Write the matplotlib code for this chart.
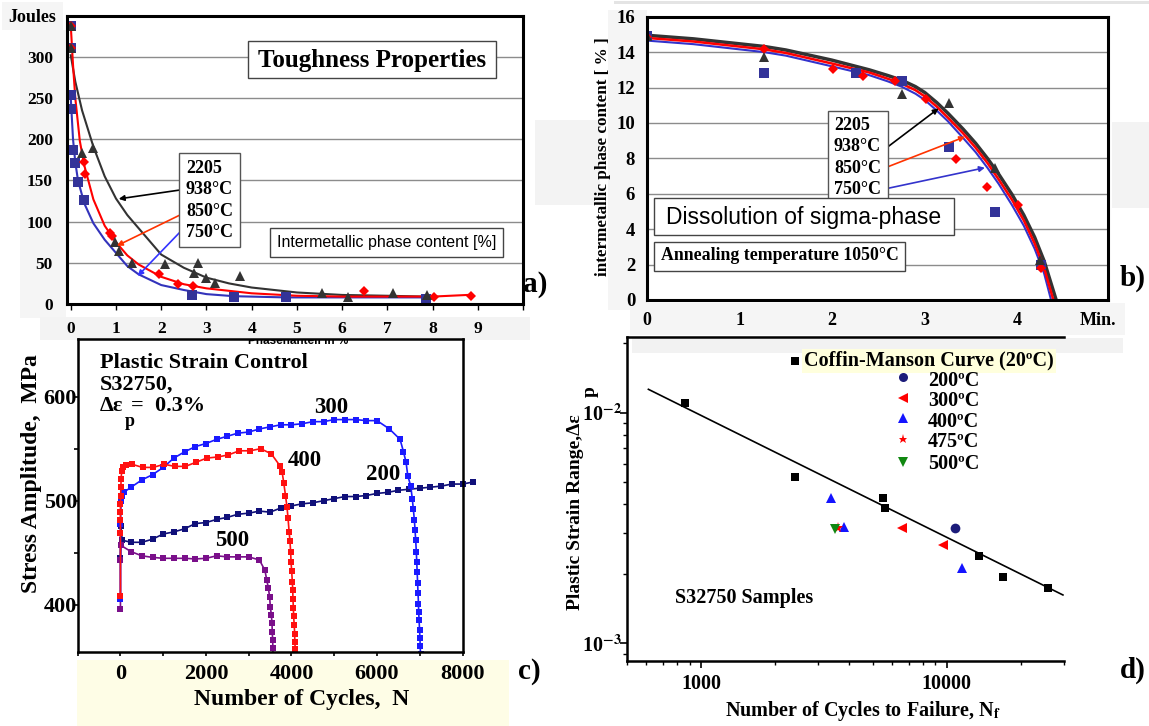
import matplotlib.pyplot as plt
from matplotlib.patches import Rectangle
from matplotlib.lines import Line2D
from matplotlib.ticker import NullFormatter
from matplotlib.transforms import Bbox, TransformedBbox

# ---------------- a) toughness vs intermetallic phase content ----------------
a_tri_x = [0, 0, 0.25, 0.49, 0.97, 1.06, 1.35, 2.09, 2.73, 2.81, 3.0, 3.2, 3.74, 5.56, 6.12, 7.13, 7.88]
a_tri_y = [338, 311, 183, 189, 75, 64, 50, 48, 38, 50, 31, 25, 34, 13, 8, 13, 11]
a_dia_x = [0, 0, 0.29, 0.32, 0.87, 0.91, 1.96, 2.37, 2.7, 6.48, 8.03, 8.84]
a_dia_y = [338, 311, 172, 158, 86, 82, 37, 24, 22, 16, 8, 10]
a_sq_x = [0, 0, 0, 0, 0.04, 0.09, 0.15, 0.29, 2.68, 3.61, 4.77, 7.85]
a_sq_y = [338, 311, 254, 237, 187, 171, 148, 126, 11, 9, 8, 6]

a_fit938_x = [0, 0.1, 0.25, 0.5, 0.75, 1.0, 1.25, 1.5, 2.0, 2.5, 3.0, 3.5, 4.0, 5.0, 6.0, 7.0, 7.85]
a_fit938_y = [302, 270, 235, 191, 155, 128, 108, 92, 60, 44, 32, 25, 20, 14, 11, 10, 9]
a_fit850_x = [0, 0.05, 0.1, 0.2, 0.3, 0.5, 0.75, 1.0, 1.25, 1.5, 2.0, 2.5, 3.0, 4.0, 5.0, 6.0, 7.0, 8.0, 8.78]
a_fit850_y = [338, 290, 250, 198, 168, 127, 95, 75, 59, 48, 33, 24, 19, 13, 10, 9, 9, 9, 11]
a_fit750_x = [0, 0.05, 0.1, 0.16, 0.3, 0.5, 0.75, 1.0, 1.25, 1.5, 2.0, 2.5, 3.0, 3.6, 4.75, 6.0, 7.8]
a_fit750_y = [250, 200, 172, 150, 122, 98, 78, 62, 46, 36, 23, 17, 12, 9.5, 8, 8, 8]

# ---------------- b) dissolution of sigma phase at 1050 C ----------------
b_tri_x = [0, 1.264, 2.758, 3.262, 3.761, 4.249]
b_tri_y = [14.9, 13.74, 11.61, 11.1, 7.44, 2.26]
b_dia_x = [0, 1.264, 2.006, 2.332, 2.677, 3.01, 3.334, 3.671, 4.004, 4.256]
b_dia_y = [14.85, 14.2, 13.04, 12.65, 12.35, 11.33, 7.96, 6.36, 5.36, 1.79]
b_sq_x = [0, 1.264, 2.258, 2.758, 3.262, 3.761, 4.256]
b_sq_y = [14.9, 12.84, 12.84, 12.37, 8.66, 4.99, 1.98]

b_fit938_x = [0, 0.5, 1.264, 1.5, 1.995, 2.4, 2.6, 2.75, 2.9, 3.0, 3.13, 3.25, 3.415, 3.55, 3.68, 3.8, 3.944, 4.07, 4.187, 4.29, 4.42, 4.45]
b_fit938_y = [14.95, 14.75, 14.32, 14.12, 13.55, 13.0, 12.68, 12.42, 12.05, 11.72, 11.15, 10.55, 9.65, 8.85, 7.98, 7.1, 5.95, 4.8, 3.55, 2.2, 0, -0.5]
b_fit850_x = [0, 0.5, 1.264, 1.5, 1.995, 2.4, 2.6, 2.75, 2.9, 3.0, 3.13, 3.25, 3.415, 3.55, 3.68, 3.8, 3.944, 4.07, 4.187, 4.29, 4.39, 4.42]
b_fit850_y = [14.8, 14.6, 14.16, 13.95, 13.36, 12.85, 12.5, 12.22, 11.85, 11.5, 10.92, 10.3, 9.41, 8.6, 7.72, 6.8, 5.65, 4.5, 3.2, 1.8, 0, -0.5]
b_fit750_x = [0, 0.5, 1.264, 1.5, 1.995, 2.4, 2.6, 2.75, 2.9, 3.0, 3.13, 3.25, 3.415, 3.55, 3.68, 3.8, 3.944, 4.07, 4.187, 4.29, 4.365, 4.39]
b_fit750_y = [14.65, 14.45, 14.0, 13.8, 13.2, 12.7, 12.35, 12.05, 11.65, 11.3, 10.7, 10.1, 9.15, 8.35, 7.45, 6.55, 5.35, 4.2, 2.9, 1.5, 0, -0.5]

# ---------------- c) cyclic stress response, S32750 ----------------
c300_n = [0, 0, 15, 40, 75, 250, 500, 750, 1000, 1250, 1500, 1750, 2000, 2250, 2500, 2750, 3000, 3250,
          3500, 3750, 4000, 4250, 4500, 4750, 5000, 5250, 5500, 5750, 6000, 6290, 6540, 6620, 6680,
          6720, 6790, 6825, 6850, 6875, 6890, 6905, 6920, 6930, 6940, 6950, 6960, 6970, 6975, 6985,
          6995, 7005, 7010, 7018]
c300_s = [405, 478, 500, 505, 508, 513, 520, 525, 532, 541, 547, 552, 555, 559, 562, 565, 566, 569,
          571, 573, 573, 574, 576, 576, 578, 578, 578, 577, 577, 569, 559, 547, 537,
          524, 514, 502, 492, 481, 472, 462, 451, 441, 431, 421, 411, 401, 393, 385,
          376, 368, 360, 353]
c400_n = [0, 0, 0, 0, 0, 5, 10, 15, 30, 60, 120, 270, 520, 760, 1020, 1270, 1520, 1770, 2020, 2270,
          2520, 2780, 3030, 3280, 3530, 3740, 3780, 3820, 3860, 3895, 3920, 3945, 3965, 3980, 3990,
          4005, 4020, 4030, 4035, 4045, 4050, 4065, 4075, 4078, 4090, 4092]
c400_s = [408, 469, 481, 489, 497, 505, 513, 521, 529, 532, 534, 535, 532, 532, 535, 533, 533, 537, 541, 542,
          544, 548, 548, 550, 545, 533, 528, 517, 505, 494, 483, 470, 461, 451, 441,
          432, 422, 414, 405, 397, 389, 380, 372, 364, 357, 348]
c200_n = [0, 10, 40, 250, 500, 750, 1000, 1250, 1500, 1750, 2000, 2250, 2500, 2750, 3000, 3250, 3500,
          3750, 4000, 4250, 4500, 4750, 5000, 5250, 5500, 5750, 6000, 6250, 6500, 6750, 7000, 7250,
          7500, 7750, 8000, 8250]
c200_s = [445, 476, 462, 460, 460, 463, 468, 470, 473, 478, 479, 482, 484, 487, 488, 490, 489,
          493, 495, 497, 498, 500, 502, 504, 504, 505, 507, 508, 510, 511, 512, 513,
          514, 516, 516, 518]
c500_n = [0, 0, 10, 250, 500, 750, 1000, 1250, 1500, 1750, 2000, 2250, 2500, 2750, 3000, 3250, 3380,
          3420, 3460, 3490, 3505, 3530, 3545, 3550, 3560, 3565, 3570]
c500_s = [396, 443, 457, 451, 447, 445.5, 444.6, 444.6, 444.6, 444, 444.6, 447, 446, 446, 446, 443, 433,
          424, 416, 407, 398, 390, 382, 374, 366, 358, 350]

# ---------------- d) Coffin-Manson plot ----------------
cm_n = [858, 2405, 5500, 5600, 13490, 16950, 25830]
cm_e = [1.105e-2, 5.28e-3, 4.25e-3, 3.87e-3, 2.40e-3, 1.945e-3, 1.742e-3]
cm_fit_n = [611, 29700]
cm_fit_e = [1.263e-2, 1.62e-3]
t200_n, t200_e = [10790], [3.17e-3]
t300_n, t300_e = [6550, 9660], [3.17e-3, 2.67e-3]
t400_n, t400_e = [3383, 3830, 11510], [4.25e-3, 3.20e-3, 2.13e-3]
t475_n, t475_e = [3600], [3.17e-3]
t500_n, t500_e = [3515], [3.13e-3]

plt.rcParams['font.family'] = ['Liberation Serif', 'DejaVu Serif']
plt.rcParams['font.weight'] = 'bold'
plt.rcParams['mathtext.fontset'] = 'stix'

W, H = 1149, 726
fig = plt.figure(figsize=(W / 100, H / 100), dpi=100)


def fx(x):
    return x / W


def fy(y):
    return 1 - y / H


def panel(x0, y0, x1, y1):
    ax = fig.add_axes([fx(x0), fy(y1), (x1 - x0) / W, (y1 - y0) / H])
    ax.set_facecolor('none')
    return ax


def rect(x0, y0, x1, y1, fc='white', ec='none', lw=1.0, z=-1):
    fig.add_artist(Rectangle((fx(x0), fy(y1)), (x1 - x0) / W, (y1 - y0) / H,
                             transform=fig.transFigure, facecolor=fc, edgecolor=ec, lw=lw, zorder=z))


def put(x, y, s, size, **kw):
    kw.setdefault('va', 'center')
    kw.setdefault('zorder', 6)
    return fig.text(fx(x), fy(y), s, fontsize=size, **kw)


def arrow(ax, tip, start, color):
    ax.annotate('', xy=tip, xycoords='data', xytext=(fx(start[0]), fy(start[1])),
                textcoords='figure fraction',
                arrowprops=dict(arrowstyle='-|>', color=color, lw=1.2, mutation_scale=8,
                                shrinkA=0, shrinkB=0))


# scanned-paper background patches
rect(2, 2, 63, 30, fc='#f5f5f5')
rect(20, 30, 66, 318, fc='#f5f5f5')
rect(40, 317, 530, 340, fc='#f3f3f3')
rect(535, 120, 600, 205, fc='#f3f3f3')
rect(608, 10, 647, 310, fc='#f5f5f5')
rect(630, 303, 1125, 335, fc='#f5f5f5')
rect(1112, 122, 1149, 208, fc='#f3f3f3')
rect(614, 1.5, 1149, 3.5, fc='#e4e4e4')
rect(77, 660, 509, 726, fc='#fefde6')
rect(632, 338, 1123, 353, fc='#f2f2f2')

# ---- panel a
ax = panel(66.7, 15.7, 523, 304)
ax.set_xlim(-0.09, 9.98)
ax.set_ylim(0, 350)
ax.set_yticks(range(0, 351, 50))
ax.set_yticklabels([str(v) for v in range(0, 301, 50)] + [''])
ax.set_xticks(range(0, 11))
ax.set_xticklabels([str(v) for v in range(10)] + [''])
ax.grid(axis='y', color='#8c8c8c', lw=1.0)
ax.set_axisbelow(True)
ax.tick_params(axis='y', length=0, pad=10, labelsize=12.5)
ax.tick_params(axis='x', length=4, width=1, pad=8, labelsize=12.5)
for s in ax.spines.values():
    s.set_linewidth(2.2)
ax.plot(a_fit938_x, a_fit938_y, color='#333333', lw=1.5)
ax.plot(a_fit750_x, a_fit750_y, color='#3333bb', lw=1.5)
ax.plot(a_fit850_x, a_fit850_y, color='#ff0000', lw=1.5)
ax.plot(a_sq_x, a_sq_y, 's', color='#333399', ms=6.5, mew=0)
ax.plot(a_dia_x, a_dia_y, 'D', color='#ff0000', ms=5, mew=0)
ax.plot(a_tri_x, a_tri_y, '^', color='#333333', ms=7, mew=0)
arrow(ax, (1.06, 127.6), (180, 190), 'black')
arrow(ax, (1.02, 70.7), (180, 215), '#ff3300')
arrow(ax, (1.48, 34.0), (182, 230), '#3333ff')

rect(179, 152.7, 240, 246.7, ec='#555555', z=5)
for yy, s in zip([168.3, 190, 211.7, 232.3], ['2205', '938°C', '850°C', '750°C']):
    put(186, yy, s, 13, ha='left')
rect(248, 40.7, 496, 78.3, ec='#444444', z=5)
put(372, 60, 'Toughness Properties', 18, ha='center')
rect(270, 227.7, 503, 256.7, ec='#444444', z=5)
put(386.5, 242.5, 'Intermetallic phase content [%]', 11.5, ha='center',
    family=['Liberation Sans', 'DejaVu Sans'], weight='normal')
put(8.3, 18, 'Joules', 13, ha='left')
put(523, 285, 'a)', 21, ha='left')
cut = put(298, 341, 'Phasenanteil in %', 8.5, ha='center', family=['Liberation Sans', 'DejaVu Sans'])
cut.set_clip_box(TransformedBbox(Bbox([[0, 0], [1, fy(340)]]), fig.transFigure))
cut.set_clip_on(True)

# ---- panel b
ax = panel(647, 16.7, 1108, 300)
ax.set_xlim(0, 4.98)
ax.set_ylim(0, 16)
ax.set_yticks(range(0, 17, 2))
ax.set_xticks([0, 1, 2, 3, 4, 4.87])
ax.set_xticklabels(['0', '1', '2', '3', '4', 'Min.'])
ax.grid(axis='y', color='#8c8c8c', lw=1.0)
ax.set_axisbelow(True)
ax.tick_params(axis='y', length=0, pad=8.5, labelsize=13.5)
ax.tick_params(axis='x', length=0, pad=8.5, labelsize=13)
for s in ax.spines.values():
    s.set_linewidth(2.2)
ax.plot(b_fit938_x, b_fit938_y, color='#333333', lw=2.5)
ax.plot(b_fit750_x, b_fit750_y, color='#3333cc', lw=1.5)
ax.plot(b_fit850_x, b_fit850_y, color='#ff0000', lw=1.8)
ax.plot(b_sq_x, b_sq_y, 's', color='#333399', ms=7, mew=0)
ax.plot(b_dia_x, b_dia_y, 'D', color='#ff0000', ms=5, mew=0)
ax.plot(b_tri_x, b_tri_y, '^', color='#333333', ms=7, mew=0)
arrow(ax, (3.15, 10.82), (888, 146.7), 'black')
arrow(ax, (3.436, 9.22), (888, 166.7), '#ff3300')
arrow(ax, (3.65, 7.47), (888, 188.3), '#3333cc')

rect(827.5, 111, 888, 203, ec='#555555', z=5)
for yy, s in zip([126, 146.7, 168.3, 190], ['2205', '938°C', '850°C', '750°C']):
    put(834, yy, s, 13, ha='left')
rect(654, 198.3, 953.7, 235, ec='#444444', z=5)
put(804, 217, 'Dissolution of sigma-phase', 16.5, ha='center',
    family=['Liberation Sans', 'DejaVu Sans'], weight='normal')
rect(654, 241.7, 905, 270.7, ec='#444444', z=5)
put(661, 256, 'Annealing temperature 1050°C', 12.8, ha='left')
put(603.3, 157, 'intermetallic phase content [ % ]', 12.3, rotation=90, ha='center')
put(1120, 278, 'b)', 21, ha='left')

# ---- panel c
ax = panel(77.7, 339.3, 462.5, 651.7)
ax.set_xlim(-1000, 8000)
ax.set_ylim(354.8, 655.2)
ax.set_xticks(range(-1000, 8001, 1000))
ax.set_xticklabels([str(v) if v >= 0 and v % 2000 == 0 else '' for v in range(-1000, 8001, 1000)])
ax.set_yticks([400, 450, 500, 550, 600])
ax.set_yticklabels(['400', '', '500', '', '600'])
ax.tick_params(axis='x', direction='out', length=3, width=1.2, pad=6, labelsize=16)
ax.tick_params(axis='y', direction='out', length=3, width=1.2, pad=-2.5, labelsize=16)
for s in ax.spines.values():
    s.set_linewidth(1.8)
ax.plot(c200_n, c200_s, '-s', color='#10107a', lw=1.2, ms=4.3, mew=0, clip_on=False)
ax.plot(c500_n, c500_s, '-s', color='#7a0f8a', lw=1.2, ms=4.3, mew=0)
ax.plot(c300_n, c300_s, '-s', color='#1a1aff', lw=1.2, ms=4.3, mew=0)
ax.plot(c400_n, c400_s, '-s', color='#ff1010', lw=1.2, ms=4.3, mew=0)

put(100, 363.3, 'Plastic Strain Control', 16, ha='left')
put(100, 385, 'S32750,', 16, ha='left')
put(100, 406, 'Δε', 16, ha='left')
put(125, 421, 'p', 13, ha='left')
put(131, 406, '=  0.3%', 16, ha='left')
put(331, 407.5, '300', 16.5, ha='center')
put(304.5, 461, '400', 16.5, ha='center')
put(383, 475, '200', 16.5, ha='center')
put(232, 540, '500', 16.5, ha='center')
put(31.7, 474, 'Stress Amplitude,  MPa', 17, rotation=90, ha='center')
put(302, 700, 'Number of Cycles,  N', 17, ha='center')
put(518, 671.7, 'c)', 21, ha='left')

# ---- panel d
ax = panel(627, 337.3, 1064, 660.5)
ax.set_xscale('log')
ax.set_yscale('log')
ax.set_xlim(500, 30000)
ax.set_ylim(8.42e-4, 2.123e-2)
ax.spines['right'].set_visible(False)
for s in ax.spines.values():
    s.set_linewidth(1.8)
ax.set_xticks([1000, 10000])
ax.set_xticklabels(['1000', '10000'])
ax.set_yticks([1e-3, 1e-2])
ax.set_yticklabels([r'10$^{\mathbf{-3}}$', r'10$^{\mathbf{-2}}$'])
ax.xaxis.set_minor_formatter(NullFormatter())
ax.yaxis.set_minor_formatter(NullFormatter())
ax.tick_params(which='major', direction='out', length=5, width=1.2, labelsize=14.5)
ax.tick_params(which='minor', direction='out', length=3, width=1)
ax.tick_params(axis='x', pad=5)
ax.tick_params(axis='y', pad=-1)
ax.plot(cm_fit_n, cm_fit_e, '-', color='black', lw=1.2)
ax.plot(cm_n, cm_e, 's', color='black', ms=5.5, mew=0)
ax.plot(t200_n, t200_e, 'o', color='#1c1c7a', ms=7, mew=0)
ax.plot(t300_n, t300_e, '<', color='#ff0000', ms=7.5, mew=0)
ax.plot(t400_n, t400_e, '^', color='#1414ff', ms=7.5, mew=0)
ax.plot(t475_n, t475_e, '*', color='#ff0000', ms=8, mew=0)
ax.plot(t500_n, t500_e, 'v', color='#118811', ms=7.5, mew=0)

# legend keys
keys = [('s', 'black', 'Coffin-Manson Curve (20ºC)'), ('o', '#1c1c7a', '200ºC'),
        ('<', '#ff0000', '300ºC'), ('^', '#1414ff', '400ºC'),
        ('*', '#ff0000', '475ºC'), ('v', '#118811', '500ºC')]
key_y = [360.7, 376.7, 398.3, 418.3, 439.3, 462.3]
text_y = [360.7, 380.7, 401, 421.7, 442.3, 464]
for i, (m, c, s) in enumerate(keys):
    kx = 794.8 if i == 0 else 902.6
    fig.add_artist(Line2D([fx(kx)], [fy(key_y[i])], marker=m, color=c, ms=6.5 if i else 5.5,
                          mew=0, ls='none', transform=fig.transFigure, zorder=6))
    if i == 0:
        put(804, text_y[i], s, 14.5, ha='left',
            bbox=dict(facecolor='#ffffdd', edgecolor='none', pad=1.5))
    else:
        put(928, text_y[i], s, 14.5, ha='left')

put(674.6, 598.3, 'S32750 Samples', 14.5, ha='left')
put(575, 512, 'Plastic Strain Range,Δε', 14, rotation=90, ha='center')
put(590, 392, 'p', 14, rotation=90, ha='center')
put(863, 716, r'Number of Cycles to Failure, N$_{\mathbf{f}}$', 14.5, ha='center', va='baseline')
put(1120, 670, 'd)', 21, ha='left')

fig.savefig('out.png', dpi=100)
